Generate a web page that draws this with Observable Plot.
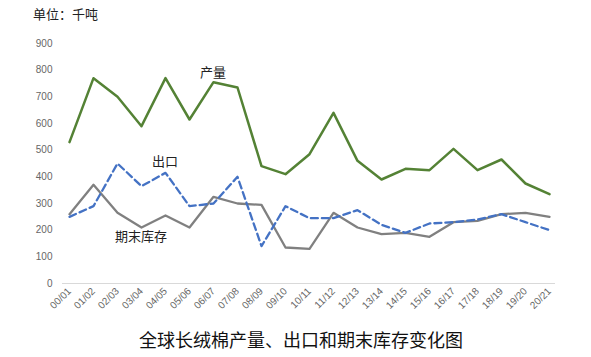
<!DOCTYPE html>
<html>
<head>
<meta charset="utf-8">
<script src="https://cdn.jsdelivr.net/npm/d3@7"></script>
<script src="https://cdn.jsdelivr.net/npm/@observablehq/plot@0.6"></script>
<style>
  body { margin: 0; background: #fff; }
  #wrap { position: relative; width: 591px; height: 357px; overflow: hidden; font-family: "Noto Sans CJK SC", "Noto Sans", sans-serif; }
  #unit { position: absolute; left: 33px; top: 4px; font-size: 13px; color: #222; }
  #title { position: absolute; left: 0; width: 602px; top: 326px; text-align: center; font-size: 18px; color: #111; }
  #chart { position: absolute; left: 0; top: 0; }
</style>
</head>
<body>
<div id="wrap">
  <div id="unit">单位：千吨</div>
  <div id="chart"></div>
  <div id="title">全球长绒棉产量、出口和期末库存变化图</div>
</div>
<script>
const categories = ["00/01","01/02","02/03","03/04","04/05","05/06","06/07","07/08","08/09","09/10","10/11","11/12","12/13","13/14","14/15","15/16","16/17","17/18","18/19","19/20","20/21"];
const production = [530,770,700,590,770,615,755,735,440,410,485,640,460,390,430,425,505,425,465,375,335];
const exportsVals = [250,290,450,365,415,290,300,400,140,290,245,245,275,220,190,225,230,240,260,230,200];
const stocks = [260,370,265,210,255,210,325,300,295,135,130,265,210,185,190,175,230,235,260,265,250];
const yTicks = [0,100,200,300,400,500,600,700,800,900];
const labels = [
  {text: "产量", cat: "06/07", value: 790, dx: 4},
  {text: "出口", cat: "04/05", value: 455, dx: 0},
  {text: "期末库存", cat: "03/04", value: 172, dx: 7}
];

const rows = (vals) => categories.map((c, i) => ({cat: c, v: vals[i]}));

const chart = Plot.plot({
  width: 591,
  height: 322,
  marginTop: 43,
  marginBottom: 39,
  marginLeft: 62,
  marginRight: 36,
  style: {fontFamily: "'Liberation Sans', Arial, sans-serif", background: "transparent"},
  x: {type: "point", domain: categories, padding: 0, label: null},
  y: {domain: [0, 900], label: null},
  marks: [
    Plot.ruleY([0], {stroke: "#d9d9d9", strokeWidth: 1}),
    Plot.axisY(yTicks, {tickSize: 0, tickPadding: 10, fontSize: 10, fill: "#666", label: null}),
    Plot.axisX(categories, {tickSize: 0, tickPadding: 6, tickRotate: -45, fontSize: 10, fill: "#666", label: null}),
    Plot.line(rows(stocks), {x: "cat", y: "v", stroke: "#808080", strokeWidth: 2.3}),
    Plot.line(rows(exportsVals), {x: "cat", y: "v", stroke: "#4472c4", strokeWidth: 2.3, strokeDasharray: "7,4"}),
    Plot.line(rows(production), {x: "cat", y: "v", stroke: "#548235", strokeWidth: 2.5}),
    Plot.text(labels, {x: "cat", y: "value", text: "text", dx: "dx", fontSize: 13, fill: "#222", fontFamily: "'Noto Sans CJK SC', sans-serif"})
  ]
});
document.getElementById("chart").appendChild(chart);
</script>
</body>
</html>
